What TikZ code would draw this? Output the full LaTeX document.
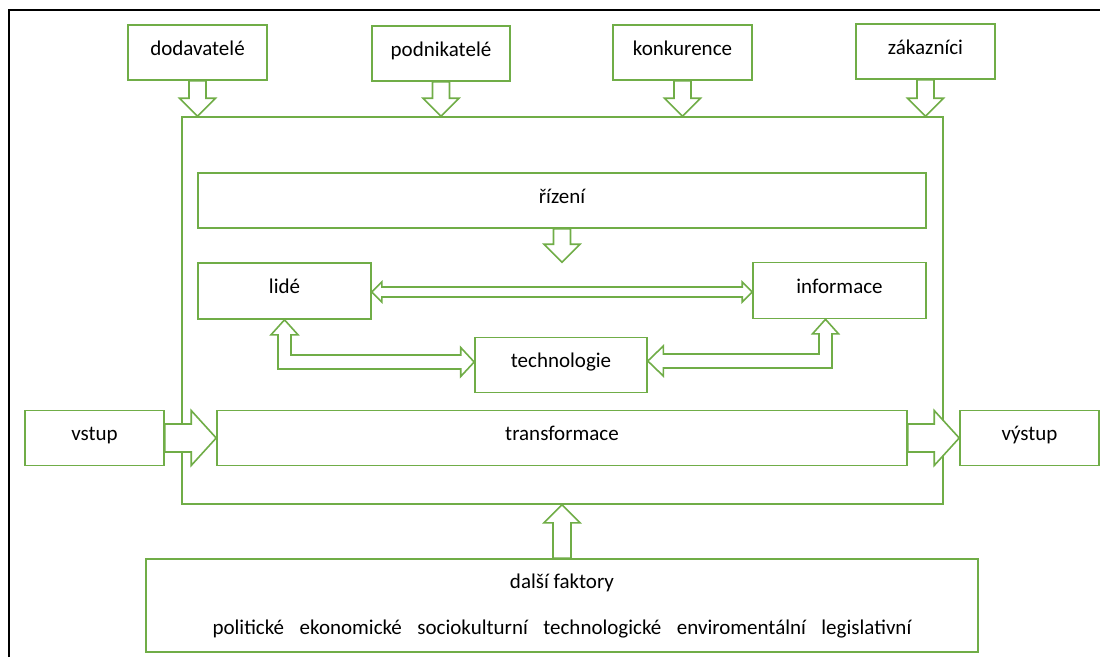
\documentclass[tikz,border=0pt]{standalone}
\usepackage{fontspec}
\setmainfont{Carlito}
\usetikzlibrary{calc}
\definecolor{boxgreen}{RGB}{112,173,71}
\newcommand{\boxfont}{\fontsize{21pt}{24pt}\selectfont}
\newcommand{\fgap}{\hspace{15.5pt}}
\tikzset{
        boxline/.style={draw=boxgreen, line width=1.6pt, line join=miter},
        % Boxes with one line of text
        greenbox/.style={boxline, rectangle, fill=white, inner sep=0pt, minimum height=55pt, text height=15pt, text depth=10pt, font=\boxfont},
        % Sizes of the block arrows
        blockshaft/.store in=\blockshaft, blockhead/.store in=\blockhead, blocklen/.store in=\blocklen,
        blockshaft=8.5pt, blockhead=18pt, blocklen=18pt,
        % Block arrow, one head
        blockarrow/.style={boxline, fill=white, to path={
            let \p1=($(\tikztotarget)!\blocklen!(\tikztostart)$) in
            ($(\tikztostart)!\blockshaft!90:(\tikztotarget)$) -- ($(\p1)!\blockshaft!90:(\tikztotarget)$)
            -- ($(\p1)!\blockhead!90:(\tikztotarget)$) -- (\tikztotarget)
            -- ($(\p1)!\blockhead!-90:(\tikztotarget)$) -- ($(\p1)!\blockshaft!-90:(\tikztotarget)$)
            -- ($(\tikztostart)!\blockshaft!-90:(\tikztotarget)$) -- cycle}},
        % Block arrow, two heads
        dblarrow/.style={boxline, fill=white, to path={
            let \p1=($(\tikztostart)!\blocklen!(\tikztotarget)$), \p2=($(\tikztotarget)!\blocklen!(\tikztostart)$) in
            (\tikztostart) -- ($(\p1)!\blockhead!90:(\tikztotarget)$) -- ($(\p1)!\blockshaft!90:(\tikztotarget)$)
            -- ($(\p2)!\blockshaft!90:(\tikztotarget)$) -- ($(\p2)!\blockhead!90:(\tikztotarget)$) -- (\tikztotarget)
            -- ($(\p2)!\blockhead!-90:(\tikztotarget)$) -- ($(\p2)!\blockshaft!-90:(\tikztotarget)$)
            -- ($(\p1)!\blockshaft!-90:(\tikztotarget)$) -- ($(\p1)!\blockhead!-90:(\tikztotarget)$) -- cycle}}
}
\begin{document}
\begin{tikzpicture}[x=1pt, y=-1pt]
    \useasboundingbox (0,0) rectangle (1100,657);
    \draw[line width=2pt] (9,657) -- (9,10) -- (1100,10);

    \node[greenbox, minimum width=139pt] (dod) at (197.5,52.5) {dodavatelé};
    \node[greenbox, minimum width=138pt] (pod) at (441,53.5) {podnikatelé};
    \node[greenbox, minimum width=139pt] (kon) at (682.5,52.5) {konkurence};
    \node[greenbox, minimum width=139pt] (zak) at (925.5,51.5) {zákazníci};

    \node[greenbox, minimum width=761pt, minimum height=387pt] (outer) at (562.5,310.5) {};
    \node[greenbox, minimum width=728pt] (rizeni) at (562,200.5) {řízení};
    \node[greenbox, minimum width=173pt, minimum height=56pt] (lide) at (284.5,291) {lidé};
    \node[greenbox, minimum width=173pt, minimum height=56pt] (info) at (839.5,290.5) {informace};
    \node[greenbox, minimum width=172pt] (tech) at (561,365) {technologie};
    \node[greenbox, minimum width=690pt] (transf) at (562,438) {transformace};
    \node[greenbox, minimum width=139pt] (vstup) at (94.5,438) {vstup};
    \node[greenbox, minimum width=139pt] (vystup) at (1029.5,438) {výstup};

    \node[greenbox, minimum width=832pt, minimum height=93pt] (faktory) at (562,605.5) {};
    \node[anchor=base, font=\boxfont] (ftitle) at ($(faktory.north)+(0,30)$) {další faktory};
    \node[anchor=base, font=\boxfont] (flist) at ($(faktory.north)+(0,76)$)
        {politické\fgap ekonomické\fgap sociokulturní\fgap technologické\fgap enviromentální\fgap legislativní};

    \draw[blockarrow] (dod.south) to (outer.north -| dod.south);
    \draw[blockarrow] (pod.south) to (outer.north -| pod.south);
    \draw[blockarrow] (kon.south) to (outer.north -| kon.south);
    \draw[blockarrow] (zak.south) to (outer.north -| zak.south);
    \draw[blockarrow] (rizeni.south) to (rizeni.south |- lide.north);
    \draw[blockarrow, blockshaft=9pt] (faktory.north) to (faktory.north |- outer.south);
    \draw[blockarrow, blockshaft=14pt, blockhead=27.5pt, blocklen=25pt] (vstup.east) to (transf.west);
    \draw[blockarrow, blockshaft=14pt, blockhead=27.5pt, blocklen=25pt] (transf.east) to (vystup.west);
    \draw[dblarrow, blockshaft=5pt, blockhead=10pt, blocklen=10pt] ($(lide.east)+(0,1)$) to ($(lide.east -| info.west)+(0,1)$);

    \draw[boxline, fill=white] let \p1=(lide.south), \p2=($(tech.west)+(0,-3)$) in
        (\p1) -- (\x1+13.5,\y1-15) -- (\x1+6.5,\y1-15) -- (\x1+6.5,\y2+7) -- (\x2-13.5,\y2+7) -- (\x2-13.5,\y2+14.5)
        -- (\p2) -- (\x2-13.5,\y2-14.5) -- (\x2-13.5,\y2-7) -- (\x1-6.5,\y2-7) -- (\x1-6.5,\y1-15) -- (\x1-13.5,\y1-15) -- cycle;
    \draw[boxline, fill=white] let \p1=($(info.south)+(-14,0)$), \p2=($(tech.east)+(0,-4)$) in
        (\p1) -- (\x1-13,\y1-14.5) -- (\x1-6.5,\y1-14.5) -- (\x1-6.5,\y2+7) -- (\x2+15.5,\y2+7) -- (\x2+15.5,\y2+15)
        -- (\p2) -- (\x2+15.5,\y2-15) -- (\x2+15.5,\y2-7) -- (\x1+6.5,\y2-7) -- (\x1+6.5,\y1-14.5) -- (\x1+13,\y1-14.5) -- cycle;
\end{tikzpicture}
\end{document}
